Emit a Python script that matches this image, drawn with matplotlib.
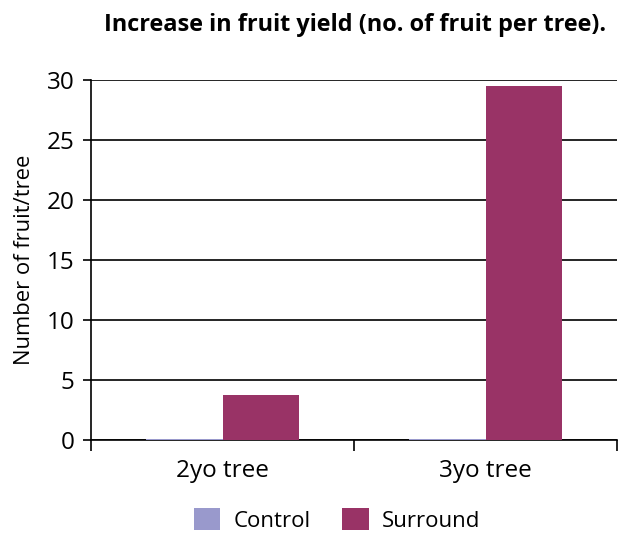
import matplotlib
matplotlib.use("Agg")
import matplotlib.pyplot as plt
import numpy as np

categories = ["2yo tree", "3yo tree"]
control = [0.12, 0.12]
surround = [3.75, 29.5]
series_names = ["Control", "Surround"]
yticks = [0, 5, 10, 15, 20, 25, 30]

plt.rcParams['font.family'] = ['Open Sans', 'DejaVu Sans']

fig = plt.figure(figsize=(6.22, 5.34), dpi=100)
ax = fig.add_axes([0.1463, 0.176, 0.8457, 0.674])

x = np.arange(len(categories))
w = 0.29
b1 = ax.bar(x - w/2, control, w, color="#9999CC", label=series_names[0], zorder=3)
b2 = ax.bar(x + w/2, surround, w, color="#993366", label=series_names[1], zorder=3)

ax.set_xlim(-0.5, len(categories) - 0.5)
ax.set_ylim(0, 30)
ax.set_yticks(yticks)
ax.yaxis.grid(True, color="black", linewidth=1.2, zorder=0)
ax.set_axisbelow(True)
for s in ["top", "right"]:
    ax.spines[s].set_visible(False)
ax.spines["left"].set_linewidth(1.2)
ax.spines["bottom"].set_linewidth(1.2)

ax.set_xticks(x)
ax.set_xticklabels(categories, fontsize=17.5)
ax.tick_params(axis="x", which="major", length=0, pad=14)
ax.set_xticks(np.arange(-0.5, len(categories)), minor=True)
ax.tick_params(axis="x", which="minor", length=8, width=1.2)
ax.tick_params(axis="y", labelsize=17.5, length=6, width=1.2, pad=6)

ax.set_ylabel("Number of fruit/tree", fontsize=15.8, labelpad=8)

fig.text(0.571, 0.953, "Increase in fruit yield (no. of fruit per tree).",
         ha="center", va="center", fontsize=16.9, fontweight="bold")

fig.legend(handles=[b1, b2], loc="center", bbox_to_anchor=(0.542, 0.027),
           ncol=2, frameon=False, fontsize=16, handlelength=1.2, handleheight=1.2,
           columnspacing=1.4, handletextpad=0.6)

fig.savefig("out.png", dpi=100)
